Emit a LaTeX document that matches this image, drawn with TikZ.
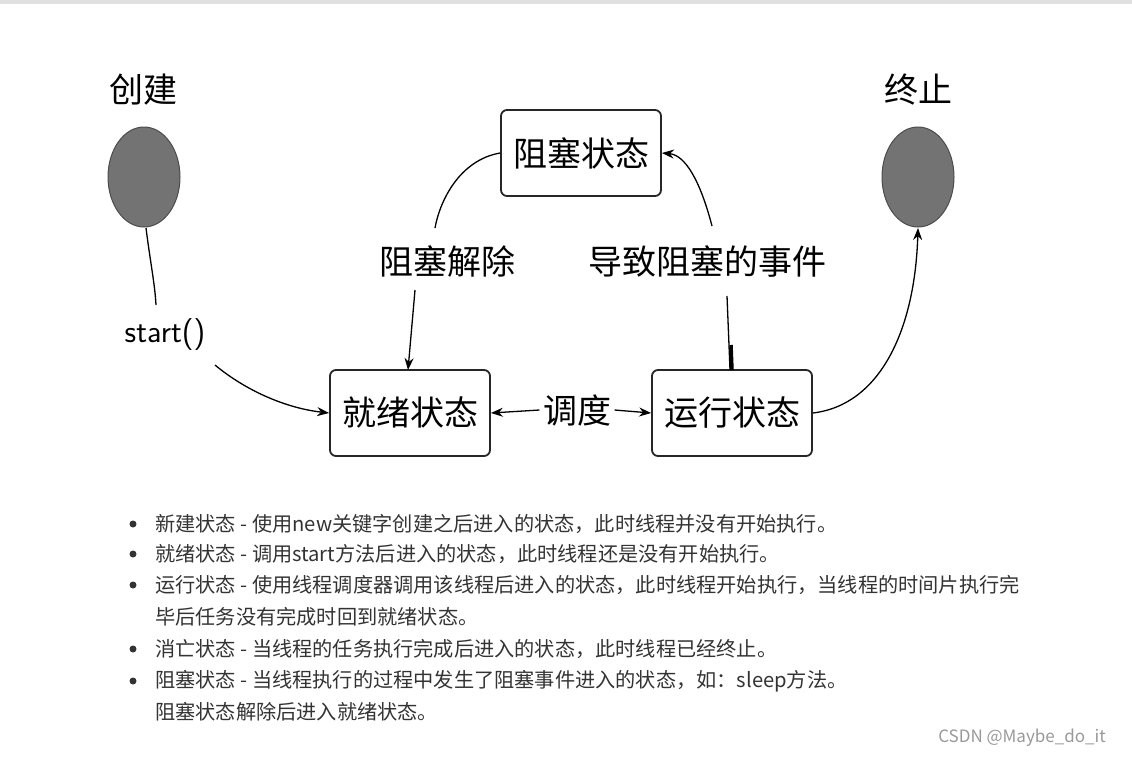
\documentclass[tikz,border=0pt]{standalone}
\usepackage{fontspec}
\setmainfont{Noto Sans CJK SC}
\usetikzlibrary{arrows.meta}
\begin{document}
\begin{tikzpicture}[x=1pt,y=-1pt,
  st/.style={draw=black!85,line width=1.8pt,rounded corners=6pt,minimum width=160pt,minimum height=86pt,font=\fontsize{34}{34}\selectfont},
  lab/.style={font=\fontsize{34}{34}\selectfont},
  ar/.style={line width=1.3pt,-{Stealth[length=12pt,width=9pt]}},
  ln/.style={line width=1.3pt},
  bl/.style={anchor=west,font=\fontsize{20.2}{20.2}\selectfont,text=black!80,inner sep=0pt}]
\useasboundingbox (0,0) rectangle (1132,758);
\fill[black!12] (0,0) rectangle (1132,4);
\node[lab] (c) at (143,90) {创建};
\node[lab] (z) at (918,90) {终止};
\draw[draw=black!70,fill=black!55,line width=1pt] (144,177) ellipse (36 and 50);
\draw[draw=black!70,fill=black!55,line width=1pt] (918,177) ellipse (36 and 50);
\coordinate (s1) at (146,228);
\coordinate (s2) at (918,228);
\node[st] (blk) at (581,153) {阻塞状态};
\node[st] (rdy) at (410,413) {就绪状态};
\node[st] (run) at (732,413) {运行状态};
\node[lab] (l1) at (447,262) {阻塞解除};
\node[lab] (l2) at (707,262) {导致阻塞的事件};
\node[lab,font=\fontsize{32}{32}\selectfont\sffamily] (l3) at (165,335) {start()};
\node[lab] (l4) at (577,410) {调度};
\draw[ln] (s1) .. controls (150,260) and (155,285) .. (156,305);
\draw[ar] (215,365) .. controls (245,390) and (285,408) .. (rdy.west);
\draw[ln] (blk.west) .. controls (460,160) and (440,200) .. (435,228);
\draw[ar] (415,290) -- (408,370);
\draw[ln] (730,370) -- (727,296);
\draw[line width=3.5pt] (732,370) -- (731,345);
\draw[ar] (712,226) .. controls (700,180) and (685,155) .. (blk.east);
\draw[ar] (run.east) .. controls (880,405) and (915,330) .. (s2);
\draw[ar] (l4.west) -- (rdy.east);
\draw[ar] (l4.east) -- (run.west);
\foreach \y/\t in {524/{新建状态 - 使用new关键字创建之后进入的状态，此时线程并没有开始执行。},
  554/{就绪状态 - 调用start方法后进入的状态，此时线程还是没有开始执行。},
  585/{运行状态 - 使用线程调度器调用该线程后进入的状态，此时线程开始执行，当线程的时间片执行完},
  649/{消亡状态 - 当线程的任务执行完成后进入的状态，此时线程已经终止。},
  681/{阻塞状态 - 当线程执行的过程中发生了阻塞事件进入的状态，如：sleep方法。}}
  {\fill[black!80] (133,\y) circle (3.5); \node[bl] at (155,\y) {\t};}
\node[bl] (t1) at (155,617) {毕后任务没有完成时回到就绪状态。};
\node[bl] (t2) at (155,712) {阻塞状态解除后进入就绪状态。};
\node[font=\fontsize{17}{17}\selectfont,text=black!40] (w) at (1022,738) {CSDN @Maybe\_do\_it};
\end{tikzpicture}
\end{document}
